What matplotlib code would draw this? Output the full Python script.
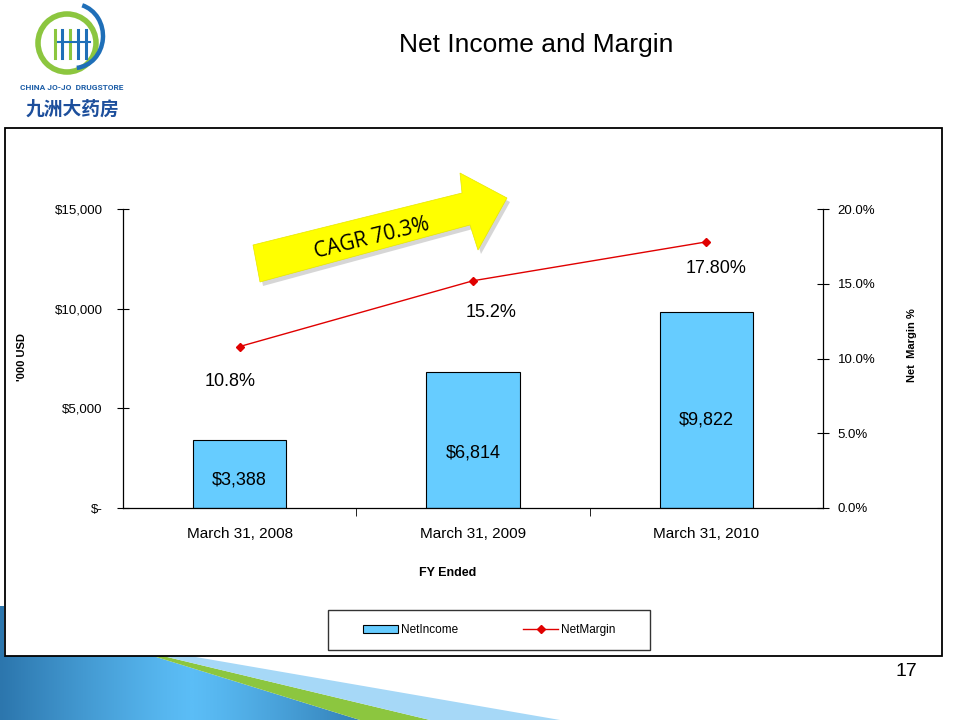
import numpy as np
import matplotlib
matplotlib.use("Agg")
import matplotlib.pyplot as plt
from matplotlib.patches import Rectangle, Polygon, Circle, Arc, Patch
from matplotlib.lines import Line2D

plt.rcParams['font.family'] = ['Liberation Sans', 'DejaVu Sans']

# data
categories = ["March 31, 2008", "March 31, 2009", "March 31, 2010"]
net_income = [3388, 6814, 9822]
net_margin = [0.108, 0.152, 0.178]
income_labels = ["$3,388", "$6,814", "$9,822"]
margin_labels = ["10.8%", "15.2%", "17.80%"]
left_ticks = [0, 5000, 10000, 15000]
left_ticklabels = ["$-", "$5,000", "$10,000", "$15,000"]
right_ticks = [0.0, 0.05, 0.10, 0.15, 0.20]
right_ticklabels = ["0.0%", "5.0%", "10.0%", "15.0%", "20.0%"]

W, H = 960, 720
fig = plt.figure(figsize=(9.6, 7.2), dpi=100)


def fp(x, y):
    # pixel -> figure fraction
    return x / W, 1 - y / H


# bottom slide decoration
blue_poly = [fp(0, 606), fp(0, 720), fp(360, 720), fp(153, 656), fp(4, 656), fp(4, 606)]
bg = fig.add_axes([0, 0, 1, 1], zorder=0)
bg.set_xlim(0, 1)
bg.set_ylim(0, 1)
bg.axis("off")
grad = np.abs(np.linspace(-1, 1, 256)) ** 1.2
img = bg.imshow(grad[None, :], extent=(0, 0.4, 0, 0.17), cmap=matplotlib.colors.LinearSegmentedColormap.from_list(
    "b", ["#5bbdf6", "#2c76ad"]), aspect="auto", zorder=1)
clip = Polygon(blue_poly, closed=True, transform=bg.transAxes, facecolor="none", edgecolor="none")
bg.add_patch(clip)
img.set_clip_path(clip)
bg.add_patch(Polygon([fp(153, 656), fp(163, 656), fp(430, 720), fp(360, 720)],
                     closed=True, facecolor="#8cc63f", edgecolor="none", zorder=2))
bg.add_patch(Polygon([fp(163, 656), fp(190, 656), fp(560, 720), fp(430, 720)],
                     closed=True, facecolor="#a6d8f7", edgecolor="none", zorder=2))

# chart frame
fig.patches.append(Rectangle(fp(5, 656), 937 / W, 528 / H, transform=fig.transFigure,
                             facecolor="white", edgecolor="black", lw=1.3, zorder=1))

# main axes
ax = fig.add_axes([123 / W, 1 - 508 / H, 700 / W, 299 / H], zorder=3)
ax.patch.set_alpha(0)
x = np.arange(len(categories))
ax.bar(x, net_income, width=0.4, color="#66ccff", edgecolor="black", lw=0.8, zorder=2)
ax.set_xlim(-0.5, 2.5)
ax.set_ylim(0, 15000)
ax.set_yticks(left_ticks)
ax.set_yticklabels(left_ticklabels)
ax.set_xticks(x)
ax.set_xticklabels(categories, fontsize=11)
ax.set_xticks([0.5, 1.5], minor=True)
ax.tick_params(axis="x", which="major", length=0, pad=14)
ax.tick_params(axis="x", which="minor", length=6, direction="out")
ax.tick_params(axis="y", direction="inout", length=9, labelsize=9.5, pad=10)
ax.spines["top"].set_visible(False)
ax.spines["right"].set_visible(False)
for s in ["left", "bottom"]:
    ax.spines[s].set_linewidth(0.9)

# bar value labels sit inside the bars
income_label_frac = [0.41, 0.405, 0.45]
for xi, v, lab, f in zip(x, net_income, income_labels, income_label_frac):
    ax.text(xi, v * f, lab, ha="center", va="center", fontsize=13)

ax2 = ax.twinx()
ax2.set_ylim(0, 0.2)
ax2.plot(x, net_margin, color="#e00000", lw=1, marker="D", ms=4, zorder=4)
ax2.set_yticks(right_ticks)
ax2.set_yticklabels(right_ticklabels)
ax2.tick_params(axis="y", direction="inout", length=9, labelsize=9.5, pad=6)
for s in ["top", "left", "bottom"]:
    ax2.spines[s].set_visible(False)
ax2.spines["right"].set_linewidth(0.9)
label_offsets = [(-0.04, -0.0237), (0.077, -0.021), (0.04, -0.0175)]
for xi, v, lab, (dx, dy) in zip(x, net_margin, margin_labels, label_offsets):
    ax2.text(xi + dx, v + dy, lab, ha="center", va="center", fontsize=13)

# axis titles
fig.text(*fp(22, 357), "'000 USD", rotation=90, ha="center", va="center", fontsize=8, fontweight="bold")
fig.text(*fp(912, 345), "Net  Margin %", rotation=90, ha="center", va="center", fontsize=8, fontweight="bold")
fig.text(*fp(448, 573), "FY Ended", ha="center", va="center", fontsize=9, fontweight="bold")

# legend
handles = [Patch(facecolor="#66ccff", edgecolor="black", lw=0.8, label="NetIncome"),
           Line2D([], [], color="#e00000", lw=1, marker="D", ms=4, label="NetMargin")]
leg = fig.legend(handles=handles, loc="center", bbox_to_anchor=fp(489, 630), ncol=2, fontsize=8.5,
                 frameon=True, fancybox=False, edgecolor="black", handlelength=3.0,
                 columnspacing=5.5, borderpad=1.2, handletextpad=0.2)
leg.get_frame().set_linewidth(1.0)
leg.set_zorder(5)
leg.get_frame().set_boxstyle("square", pad=0)
leg._legend_box.set_width  # keep default packing
frame_w = 334 / W
leg.set_bbox_to_anchor((322 / W, 1 - 648 / H, frame_w, 36 / H))
leg.set_loc("center")
leg._mode = "expand"

# title and page number
fig.text(*fp(536, 45), "Net Income and Margin", ha="center", va="center", fontsize=19)
fig.text(*fp(906, 671), "17", ha="center", va="center", fontsize=14)

# CAGR arrow
arrow_pts = [(253, 245), (462, 193), (460, 173), (507, 198), (478, 250), (470, 225), (260, 282)]
shadow = Polygon([fp(px + 3, py + 4) for px, py in arrow_pts], closed=True, transform=fig.transFigure,
                 facecolor="#bbbbbb", edgecolor="none", alpha=0.6, zorder=6)
arrow = Polygon([fp(px, py) for px, py in arrow_pts], closed=True, transform=fig.transFigure,
                facecolor="#ffff00", edgecolor="#e6e600", lw=0.5, zorder=7)
fig.patches.extend([shadow, arrow])
fig.text(*fp(372, 238), "CAGR 70.3%", rotation=14, ha="center", va="center", fontsize=15,
         family=["Open Sans", "DejaVu Sans"], zorder=8)

# logo
lax = fig.add_axes([0, 1 - 125 / H, 150 / W, 125 / H], zorder=4)
lax.set_xlim(0, 150)
lax.set_ylim(125, 0)
lax.set_aspect("equal")
lax.axis("off")
lax.add_patch(Circle((67, 43), 29, facecolor="none", edgecolor="#8cc63f", lw=4))
lax.add_patch(Arc((74, 36), 58, 64, theta1=-75, theta2=85, edgecolor="#1f6fb8", lw=3.2))
for bx, col in [(55, "#8cc63f"), (62, "#1f6fb8"), (70, "#8cc63f"), (78, "#1f6fb8"), (86, "#1f6fb8")]:
    lax.plot([bx, bx], [30, 58], color=col, lw=2.2)
lax.plot([58, 90], [42, 42], color="#1f6fb8", lw=1.5)
lax.text(72, 87, "CHINA JO-JO  DRUGSTORE", ha="center", va="center", fontsize=6,
         color="#1f5fa8", fontweight="bold", family=["Roboto", "DejaVu Sans"])
lax.text(72, 109, "九洲大药房", ha="center", va="center", fontsize=13.5, color="#1d4f9c",
         fontweight="bold", family=["Noto Sans CJK SC", "DejaVu Sans"])

fig.savefig("out.png", dpi=100)
